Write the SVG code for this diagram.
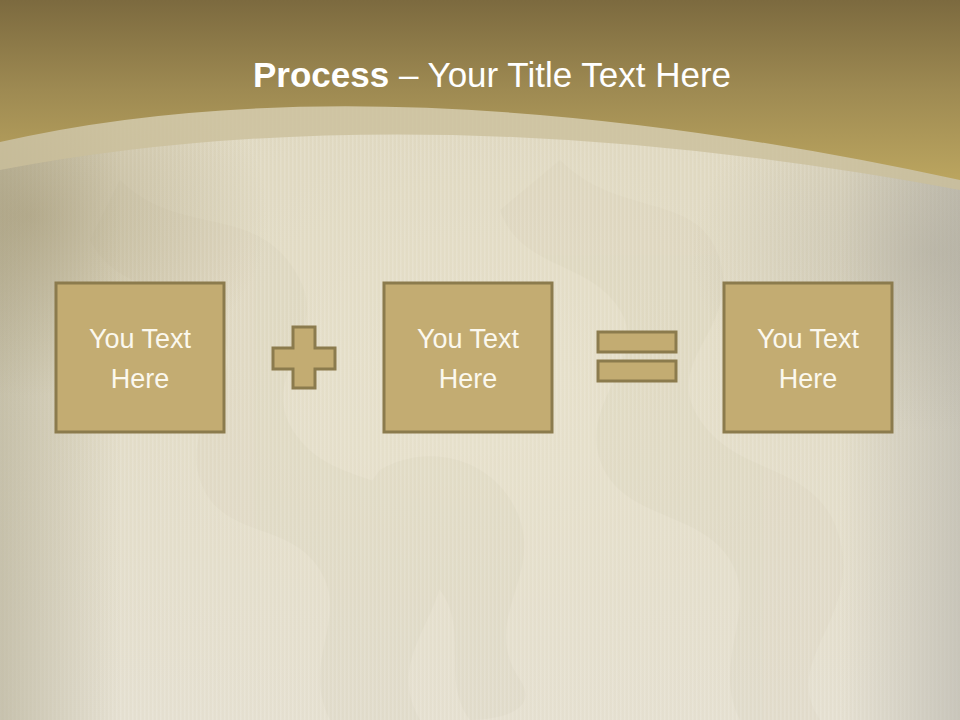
<svg xmlns="http://www.w3.org/2000/svg" width="960" height="720" viewBox="0 0 960 720">
  <defs>
    <linearGradient id="bgMain" x1="0" y1="0" x2="0" y2="1">
      <stop offset="0" stop-color="#dcd4bb"/>
      <stop offset="0.5" stop-color="#e0dac4"/>
      <stop offset="1" stop-color="#e4dfd0"/>
    </linearGradient>
    <radialGradient id="glow" cx="0.5" cy="0.55" r="0.6">
      <stop offset="0" stop-color="#ebe5cf" stop-opacity="0.6"/>
      <stop offset="0.6" stop-color="#e8e1cb" stop-opacity="0.2"/>
      <stop offset="1" stop-color="#e8e1cb" stop-opacity="0"/>
    </radialGradient>
    <linearGradient id="edgeL" x1="0" y1="0" x2="1" y2="0">
      <stop offset="0" stop-color="#aea88f" stop-opacity="0.55"/>
      <stop offset="1" stop-color="#aea88f" stop-opacity="0"/>
    </linearGradient>
    <linearGradient id="edgeR" x1="1" y1="0" x2="0" y2="0">
      <stop offset="0" stop-color="#b2b0a8" stop-opacity="0.55"/>
      <stop offset="1" stop-color="#b2b0a8" stop-opacity="0"/>
    </linearGradient>
    <radialGradient id="darkTL" cx="0.03" cy="0.3" r="0.25">
      <stop offset="0" stop-color="#8e8058" stop-opacity="0.4"/>
      <stop offset="1" stop-color="#8e8058" stop-opacity="0"/>
    </radialGradient>
    <radialGradient id="darkTR" cx="0.97" cy="0.35" r="0.25">
      <stop offset="0" stop-color="#9a968a" stop-opacity="0.35"/>
      <stop offset="1" stop-color="#9a968a" stop-opacity="0"/>
    </radialGradient>
    <linearGradient id="header" x1="0" y1="0" x2="0" y2="1">
      <stop offset="0" stop-color="#7c6a3f"/>
      <stop offset="0.5" stop-color="#9e8a52"/>
      <stop offset="1" stop-color="#bba55f"/>
    </linearGradient>
    <pattern id="stripes" width="4" height="6" patternUnits="userSpaceOnUse">
      <rect x="0" y="0" width="1.5" height="6" fill="#ffffff" opacity="0.14"/>
    </pattern>
    <style>
      .box { fill: #c3ac72; stroke: #8b7b4d; stroke-width: 3; }
      .op { fill: #c3ac72; stroke: #8b7b4d; stroke-width: 3; }
      .lbl { font-family: "Liberation Sans", Arial, sans-serif; font-size: 27px; fill: #fbf8ee; text-anchor: middle; }
      .title { font-family: "Liberation Sans", Arial, sans-serif; font-size: 35px; fill: #ffffff; text-anchor: middle; }
      .damask { fill: #b9b095; opacity: 0.08; }
    </style>
  </defs>

  <!-- background -->
  <rect x="0" y="0" width="960" height="720" fill="url(#bgMain)"/>
  <rect x="0" y="0" width="960" height="720" fill="url(#glow)"/>
  <g class="damask">
    <path d="M120 180 C180 240 260 200 300 280 C330 340 250 380 300 440 C340 490 420 470 440 540 C460 610 380 650 420 720 L330 720 C300 660 350 620 320 570 C290 520 220 540 200 480 C180 420 250 380 220 330 C190 280 120 300 90 240 Z"/>
    <path d="M560 160 C620 220 700 190 720 260 C740 330 660 360 700 420 C740 480 820 460 840 540 C860 620 780 660 820 720 L740 720 C710 660 760 610 730 560 C700 510 620 520 600 460 C580 400 650 360 620 310 C590 260 520 270 500 210 Z"/>
    <path d="M380 470 C430 440 500 460 520 520 C540 580 480 620 520 680 C540 710 500 720 470 720 C440 680 470 630 440 590 C410 550 350 560 350 510 Z"/>
  </g>
  <rect x="0" y="0" width="960" height="720" fill="url(#stripes)"/>
  <rect x="0" y="0" width="120" height="720" fill="url(#edgeL)"/>
  <rect x="840" y="0" width="120" height="720" fill="url(#edgeR)"/>
  <rect x="0" y="0" width="960" height="720" fill="url(#darkTL)"/>
  <rect x="0" y="0" width="960" height="720" fill="url(#darkTR)"/>

  <!-- header band and translucent arc -->
  <path d="M0 0 H960 V190 Q420 90 0 170 Z" fill="#cbbf9b" opacity="0.8"/>
  <path d="M0 0 H960 V180 Q380 55 0 142 Z" fill="url(#header)"/>

  <!-- title -->
  <text class="title" x="492" y="87"><tspan font-weight="bold">Process</tspan> – Your Title Text Here</text>

  <!-- nodes -->
  <g id="box1">
    <rect class="box" x="56" y="283" width="168" height="149"/>
    <text class="lbl" x="140" y="348">You Text</text>
    <text class="lbl" x="140" y="388">Here</text>
  </g>
  <g id="box2">
    <rect class="box" x="384" y="283" width="168" height="149"/>
    <text class="lbl" x="468" y="348">You Text</text>
    <text class="lbl" x="468" y="388">Here</text>
  </g>
  <g id="box3">
    <rect class="box" x="724" y="283" width="168" height="149"/>
    <text class="lbl" x="808" y="348">You Text</text>
    <text class="lbl" x="808" y="388">Here</text>
  </g>

  <!-- operators between nodes -->
  <g id="connectors">
    <g id="plus">
      <polygon class="op" points="293,327 315,327 315,348 335,348 335,369 315,369 315,388 293,388 293,369 273,369 273,348 293,348"/>
    </g>
    <g id="equals">
      <rect class="op" x="598" y="332" width="78" height="20"/>
      <rect class="op" x="598" y="361" width="78" height="20"/>
    </g>
  </g>
</svg>
